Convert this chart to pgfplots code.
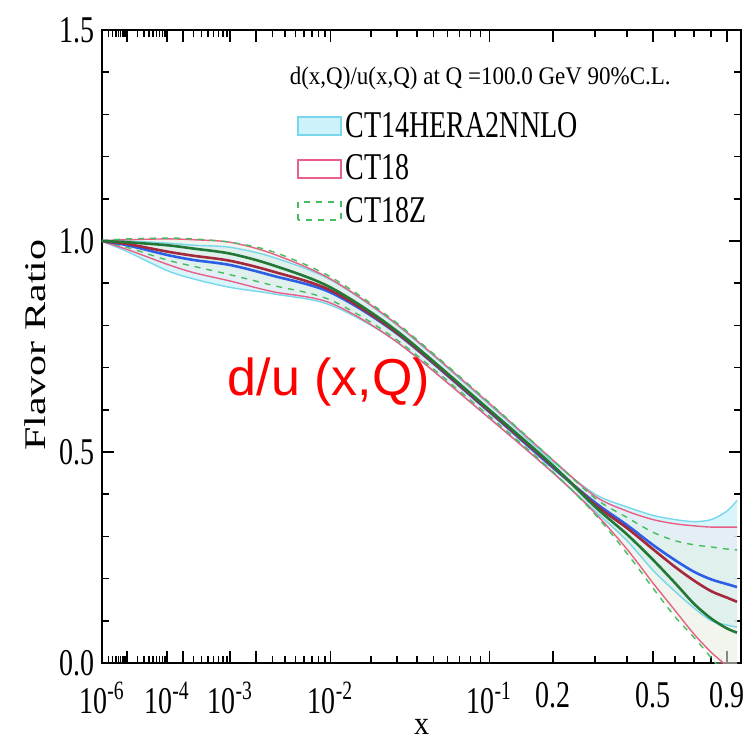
\documentclass[border=0pt]{standalone}
\usepackage{fontspec}
\setmainfont{Liberation Serif}
\newfontfamily\arialfont{Liberation Sans}
\usepackage{graphicx}
\usepackage{pgfplots}
\pgfplotsset{compat=1.18}
\usepackage{pgfplotstable}
\usepgfplotslibrary{fillbetween}

\newcommand{\sy}[1]{\scalebox{1}[1.35]{#1}}

\definecolor{cfill}{RGB}{205,242,250}
\definecolor{cedge}{RGB}{120,215,235}
\definecolor{ccen}{RGB}{45,95,230}
\definecolor{rfill}{RGB}{250,228,234}
\definecolor{redge}{RGB}{232,95,135}
\definecolor{rcen}{RGB}{165,40,60}
\definecolor{gfill}{RGB}{218,245,220}
\definecolor{gedge}{RGB}{70,190,95}
\definecolor{gcen}{RGB}{35,120,55}

% x axis is linear in x^0.2
\pgfplotstableread{
x lo c hi
1e-6 0.999 1.000 1.001
1e-5 0.975 0.990 1.000
1e-4 0.930 0.967 0.995
3e-4 0.910 0.955 0.990
1e-3 0.890 0.943 0.985
3e-3 0.875 0.918 0.962
1e-2 0.848 0.878 0.908
3e-2 0.760 0.780 0.800
0.1 0.580 0.595 0.612
0.2 0.450 0.462 0.476
0.3 0.360 0.380 0.400
0.4 0.290 0.327 0.370
0.5 0.220 0.280 0.350
0.6 0.170 0.244 0.340
0.7 0.130 0.216 0.335
0.8 0.100 0.198 0.340
0.9 0.090 0.187 0.360
0.97 0.085 0.180 0.385
}\ctfourteen

\pgfplotstableread{
x lo c hi
1e-6 0.999 1.000 1.001
1e-5 0.980 0.993 1.003
1e-4 0.945 0.975 1.005
3e-4 0.925 0.965 1.003
1e-3 0.905 0.953 0.997
3e-3 0.880 0.928 0.970
1e-2 0.853 0.883 0.910
3e-2 0.760 0.782 0.802
0.1 0.580 0.597 0.615
0.2 0.450 0.465 0.480
0.3 0.355 0.375 0.395
0.4 0.270 0.320 0.360
0.5 0.190 0.270 0.340
0.6 0.125 0.228 0.330
0.7 0.068 0.195 0.325
0.8 0.025 0.170 0.322
0.9 -0.008 0.155 0.322
0.97 -0.040 0.145 0.322
}\cteighteen

\pgfplotstableread{
x lo c hi
1e-6 0.999 1.000 1.001
1e-5 0.985 0.997 1.005
1e-4 0.955 0.990 1.007
3e-4 0.940 0.982 1.005
1e-3 0.920 0.970 0.997
3e-3 0.895 0.943 0.975
1e-2 0.860 0.890 0.915
3e-2 0.765 0.786 0.805
0.1 0.585 0.600 0.617
0.2 0.452 0.467 0.480
0.3 0.352 0.370 0.390
0.4 0.260 0.305 0.345
0.5 0.178 0.245 0.310
0.6 0.110 0.190 0.290
0.7 0.060 0.140 0.280
0.8 0.012 0.105 0.275
0.9 -0.035 0.082 0.270
0.97 -0.065 0.072 0.268
}\cteighteenz

\begin{document}
\begin{tikzpicture}
\begin{axis}[
  at={(0,0)}, anchor=south west,
  scale only axis, width=319.5pt, height=316.5pt,
  xmin=0.0630957, xmax=1, ymin=0, ymax=1.5,
  xtick={0.0630957,0.1,0.158489,0.182056,0.251189,0.288540,0.398107,0.630957,0.724780,0.870551,0.979148},
  xticklabels={\sy{10\textsuperscript{-6}},,\sy{10\textsuperscript{-4}},,\sy{10\textsuperscript{-3}},,\sy{10\textsuperscript{-2}},\sy{10\textsuperscript{-1}},\sy{0.2},\sy{0.5},\sy{0.9}},
  minor xtick={0.072478,0.078600,0.083255,0.087055,0.090287,0.093114,0.095635,0.097914,
    0.114870,0.124573,0.131951,0.137973,0.143097,0.147577,0.151572,0.155185,
    0.197435,0.209128,0.218672,0.226793,0.233894,0.240225,0.245951,
    0.312914,0.331446,0.346572,0.359443,0.370697,0.380731,0.389806,
    0.457305,0.495934,0.525306,0.549280,0.569679,0.587516,0.603418,0.617801,
    0.786003,0.832553,0.902873,0.931140,0.956352},
  ytick={0,0.5,1,1.5},
  yticklabels={\sy{0.0},\sy{0.5},\sy{1.0},\sy{1.5}},
  minor ytick={0.1,0.2,0.3,0.4,0.6,0.7,0.8,0.9,1.1,1.2,1.3,1.4},
  tick label style={font=\fontsize{14}{16}\selectfont},
  xticklabel style={yshift=-6pt},
  major tick length=6pt, minor tick length=3.5pt,
  every tick/.style={black, line width=0.8pt},
  axis line style={black, line width=1pt},
  xlabel={\scalebox{1}[1.1]{x}},
  ylabel={\scalebox{1.4}[1]{Flavor Ratio}},
  every axis x label/.style={at={(axis description cs:0.5,0)}, anchor=center, yshift=-32pt, font=\fontsize{15}{17}\selectfont},
  every axis y label/.style={at={(axis description cs:0,0.502)}, xshift=-33.5pt, anchor=center, rotate=90, font=\fontsize{15}{17}\selectfont},
  legend style={at={(axis description cs:0.305,0.877)}, anchor=north west, draw=none, fill=none, inner sep=0pt, row sep=3.2pt, font=\fontsize{14}{16}\selectfont, /tikz/every even column/.append style={column sep=5pt}},
  legend cell align=left,
  table/x expr={\thisrow{x}^0.2},
]
% bands: fills
\addplot[name path=c14hi, draw=none, smooth, forget plot] table[y=hi]{\ctfourteen};
\addplot[name path=c14lo, draw=none, smooth, forget plot] table[y=lo]{\ctfourteen};
\addplot[cfill, opacity=0.8, forget plot] fill between[of=c14hi and c14lo];
\addplot[name path=c18hi, draw=none, smooth, forget plot] table[y=hi]{\cteighteen};
\addplot[name path=c18lo, draw=none, smooth, forget plot] table[y=lo]{\cteighteen};
\addplot[rfill, opacity=0.35, forget plot] fill between[of=c18hi and c18lo];
\addplot[name path=c18zhi, draw=none, smooth, forget plot] table[y=hi]{\cteighteenz};
\addplot[name path=c18zlo, draw=none, smooth, forget plot] table[y=lo]{\cteighteenz};
\addplot[gfill, opacity=0.35, forget plot] fill between[of=c18zhi and c18zlo];
% band edges
\addplot[cedge, line width=0.7pt, smooth, forget plot] table[y=hi]{\ctfourteen};
\addplot[cedge, line width=0.7pt, smooth, forget plot] table[y=lo]{\ctfourteen};
\addplot[redge, line width=0.7pt, smooth, forget plot] table[y=hi]{\cteighteen};
\addplot[redge, line width=0.7pt, smooth, forget plot] table[y=lo]{\cteighteen};
\addplot[gedge, line width=0.7pt, dashed, smooth, forget plot] table[y=hi]{\cteighteenz};
\addplot[gedge, line width=0.7pt, dashed, smooth, forget plot] table[y=lo]{\cteighteenz};
% central lines
\addplot[ccen, line width=1.3pt, smooth, forget plot] table[y=c]{\ctfourteen};
\addplot[rcen, line width=1.3pt, smooth, forget plot] table[y=c]{\cteighteen};
\addplot[gcen, line width=1.3pt, smooth, forget plot] table[y=c]{\cteighteenz};
% legend
\addlegendimage{legend image code/.code={\draw[fill=cfill,draw=cedge,line width=0.8pt] (0pt,-4.5pt) rectangle (21.5pt,4.5pt);}}
\addlegendentry{\sy{CT14HERA2NNLO}}
\addlegendimage{legend image code/.code={\draw[fill=white,draw=redge,line width=0.8pt] (0pt,-4.5pt) rectangle (21.5pt,4.5pt);}}
\addlegendentry{\sy{CT18}}
\addlegendimage{legend image code/.code={\draw[fill=white,draw=gedge,dashed,line width=0.8pt] (0pt,-4.5pt) rectangle (21.5pt,4.5pt);}}
\addlegendentry{\sy{CT18Z}}
\node[font=\fontsize{11.5}{13}\selectfont, anchor=center] at (axis description cs:0.592,0.924) {\scalebox{1}[1.1]{d(x,Q)/u(x,Q) at Q =100.0 GeV 90\%C.L.}};
\node[text=red, font=\arialfont\fontsize{26}{30}\selectfont, anchor=center] at (axis description cs:0.355,0.444) {d/u (x,Q)};
\end{axis}
\pgfresetboundingbox
\path[use as bounding box] (-51pt,-39pt) rectangle (324.5pt,331.5pt);
\end{tikzpicture}
\end{document}
